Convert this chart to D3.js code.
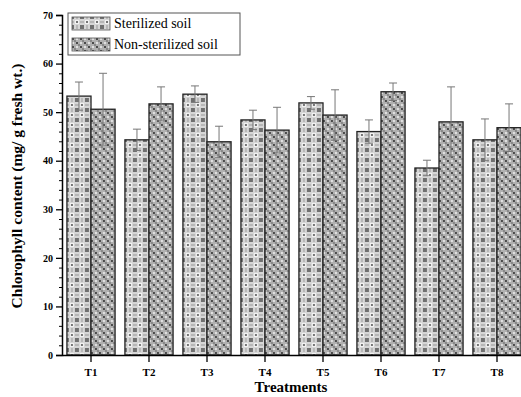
<!DOCTYPE html>
<html>
<head>
<meta charset="utf-8">
<script src="https://cdn.jsdelivr.net/npm/d3@7"></script>
<style>
  body { margin: 0; background: #fff; }
  text { font-family: "Liberation Serif", "DejaVu Serif", serif; font-weight: bold; }
</style>
</head>
<body>
<svg width="521" height="397"></svg>
<script>
var treatments = ["T1", "T2", "T3", "T4", "T5", "T6", "T7", "T8"];
var sterilized = [53.3, 44.3, 53.7, 48.4, 51.9, 46.0, 38.5, 44.3];
var sterilizedErr = [2.9, 2.2, 1.7, 2.0, 1.3, 2.4, 1.6, 4.3];
var nonSterilized = [50.6, 51.7, 43.9, 46.3, 49.4, 54.2, 48.0, 46.8];
var nonSterilizedErr = [7.4, 3.5, 3.2, 4.7, 5.2, 1.8, 7.2, 4.9];
var seriesNames = ["Sterilized soil", "Non-sterilized soil"];
var yTicks = [0, 10, 20, 30, 40, 50, 60, 70];

var svg = d3.select("svg");
var defs = svg.append("defs");

// sterilized: light checker with crosses
var p1 = defs.append("pattern").attr("id", "pat1")
    .attr("patternUnits", "userSpaceOnUse").attr("width", 10).attr("height", 10);
p1.append("rect").attr("width", 10).attr("height", 10).attr("fill", "#d6d6d6");
p1.append("rect").attr("x", 3).attr("y", 3).attr("width", 4).attr("height", 4).attr("fill", "#f2f2f2");
p1.append("path").attr("d", "M0,0L2,2M2,0L0,2M8,0L10,2M10,0L8,2M0,8L2,10M2,8L0,10M8,8L10,10M10,8L8,10M4,4L6,6M6,4L4,6")
    .attr("stroke", "#555").attr("stroke-width", 0.8);
p1.append("path").attr("d", "M5,0V2M5,8V10M0,5H2M8,5H10").attr("stroke", "#999").attr("stroke-width", 1);

// non-sterilized: darker checker
var p2 = defs.append("pattern").attr("id", "pat2")
    .attr("patternUnits", "userSpaceOnUse").attr("width", 8).attr("height", 8);
p2.append("rect").attr("width", 8).attr("height", 8).attr("fill", "#b0b0b0");
p2.append("rect").attr("x", 0).attr("y", 0).attr("width", 2).attr("height", 2).attr("fill", "#4a4a4a");
p2.append("rect").attr("x", 4).attr("y", 4).attr("width", 2).attr("height", 2).attr("fill", "#4a4a4a");
p2.append("rect").attr("x", 4).attr("y", 0).attr("width", 2).attr("height", 2).attr("fill", "#e0e0e0");
p2.append("rect").attr("x", 0).attr("y", 4).attr("width", 2).attr("height", 2).attr("fill", "#e0e0e0");
p2.append("rect").attr("x", 2).attr("y", 2).attr("width", 2).attr("height", 2).attr("fill", "#888");
p2.append("rect").attr("x", 6).attr("y", 6).attr("width", 2).attr("height", 2).attr("fill", "#888");

var fills = ["url(#pat1)", "url(#pat2)"];

var x = d3.scaleBand().domain(treatments).range([62, 526]).paddingInner(0.17).paddingOuter(0.085);
var y = d3.scaleLinear().domain([0, 70]).range([355, 15]);
var sub = d3.scaleBand().domain([0, 1]).range([0, x.bandwidth()]);

var rows = treatments.map(function(t, i) {
  return [
    { t: t, s: 0, v: sterilized[i], e: sterilizedErr[i] },
    { t: t, s: 1, v: nonSterilized[i], e: nonSterilizedErr[i] }
  ];
});

var groups = svg.selectAll("g.grp")
  .data(rows)
  .enter().append("g")
    .attr("class", "grp")
    .attr("transform", function(d) { return "translate(" + x(d[0].t) + ",0)"; });

groups.selectAll("rect")
  .data(function(d) { return d; })
  .enter().append("rect")
    .attr("x", function(d) { return sub(d.s); })
    .attr("y", function(d) { return y(d.v); })
    .attr("width", sub.bandwidth())
    .attr("height", function(d) { return y(0) - y(d.v); })
    .attr("fill", function(d) { return fills[d.s]; })
    .attr("stroke", "#222")
    .attr("stroke-width", 1.3);

// error bars
var eb = groups.selectAll("g.err")
  .data(function(d) { return d; })
  .enter().append("g")
    .attr("class", "err")
    .attr("stroke", "#777")
    .attr("stroke-width", 1);
eb.append("line")
  .attr("x1", function(d) { return sub(d.s) + sub.bandwidth() / 2; })
  .attr("x2", function(d) { return sub(d.s) + sub.bandwidth() / 2; })
  .attr("y1", function(d) { return y(d.v + d.e); })
  .attr("y2", function(d) { return y(d.v - d.e); });
eb.selectAll("line.cap")
  .data(function(d) { return [d.v + d.e, d.v - d.e].map(function(v) { return { s: d.s, v: v }; }); })
  .enter().append("line")
    .attr("class", "cap")
    .attr("x1", function(d) { return sub(d.s) + sub.bandwidth() / 2 - 4; })
    .attr("x2", function(d) { return sub(d.s) + sub.bandwidth() / 2 + 4; })
    .attr("y1", function(d) { return y(d.v); })
    .attr("y2", function(d) { return y(d.v); });

// axes
var yAxis = d3.axisLeft(y).tickValues(yTicks).tickSize(6).tickPadding(3).tickFormat(d3.format("d"));
var gy = svg.append("g").attr("transform", "translate(62,0)").call(yAxis);
gy.select(".domain").attr("stroke-width", 1.5);
gy.selectAll(".tick line").attr("stroke-width", 1.3);
gy.selectAll("text").attr("font-size", 10);

var yMinor = d3.axisLeft(y).tickValues(d3.range(0, 71, 2).filter(function(v) { return v % 10 !== 0; }))
  .tickSize(3).tickFormat("");
svg.append("g").attr("transform", "translate(62,0)").call(yMinor)
  .call(function(g) { g.select(".domain").remove(); });

var xAxis = d3.axisBottom(x).tickSize(7).tickPadding(6).tickSizeOuter(0);
var gx = svg.append("g").attr("transform", "translate(0,355)").call(xAxis);
gx.select(".domain").attr("stroke-width", 1.5);
gx.selectAll(".tick line").attr("stroke-width", 1.3);
gx.selectAll("text").attr("font-size", 11);

svg.append("text")
  .attr("x", 291).attr("y", 392)
  .attr("text-anchor", "middle")
  .attr("font-size", 15)
  .text("Treatments");

svg.append("text")
  .attr("transform", "translate(22,186) rotate(-90)")
  .attr("text-anchor", "middle")
  .attr("font-size", 15.5)
  .text("Chlorophyll content (mg/ g fresh wt.)");

// legend
var legend = svg.append("g").attr("transform", "translate(68,13)");
legend.append("rect")
  .attr("width", 172).attr("height", 42)
  .attr("fill", "#fff").attr("stroke", "#555").attr("stroke-width", 1);
var li = legend.selectAll("g.li")
  .data(seriesNames)
  .enter().append("g")
    .attr("class", "li")
    .attr("transform", function(d, i) { return "translate(4," + (4 + i * 21) + ")"; });
li.append("rect")
  .attr("width", 38).attr("height", 13)
  .attr("fill", function(d, i) { return fills[i]; })
  .attr("stroke", "#555").attr("stroke-width", 0.8);
li.append("text")
  .attr("x", 42).attr("y", 11)
  .attr("font-size", 14)
  .style("font-weight", "normal")
  .text(function(d) { return d; });
</script>
</body>
</html>
